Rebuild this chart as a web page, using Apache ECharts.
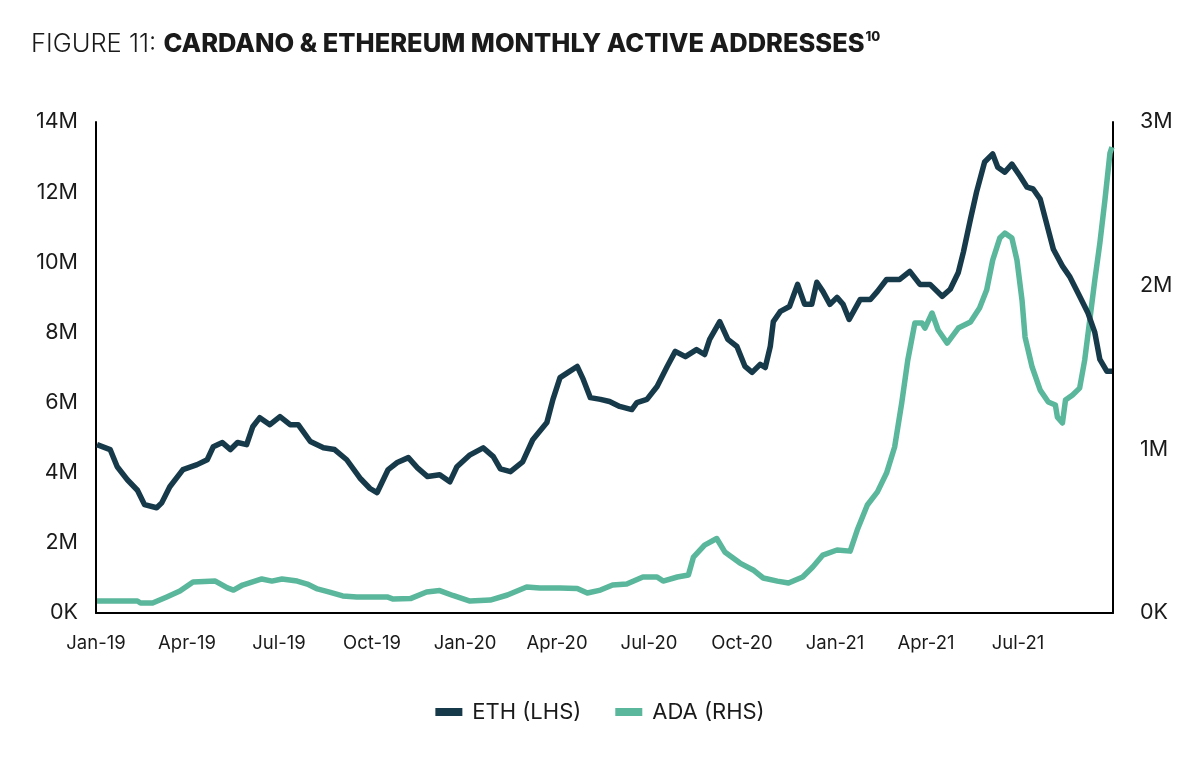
<!DOCTYPE html>
<html>
<head>
<meta charset="utf-8">
<script src="https://cdn.jsdelivr.net/npm/echarts@6/dist/echarts.min.js"></script>
<style>
  html, body { margin: 0; padding: 0; background: #fff; }
  #chart { width: 1200px; height: 761px; }
</style>
</head>
<body>
<div id="chart"></div>
<script>
// ETH monthly active addresses, millions (left axis)
const ethDates = [
  '2019-01-02','2019-01-15','2019-01-22','2019-02-01','2019-02-11','2019-02-18','2019-03-02','2019-03-07',
  '2019-03-15','2019-03-28','2019-04-11','2019-04-21','2019-04-27','2019-05-06','2019-05-14','2019-05-21',
  '2019-05-30','2019-06-05','2019-06-12','2019-06-22','2019-07-02','2019-07-12','2019-07-20','2019-08-01',
  '2019-08-14','2019-08-25','2019-09-06','2019-09-19','2019-09-29','2019-10-06','2019-10-17','2019-10-26',
  '2019-11-06','2019-11-15','2019-11-25','2019-12-07','2019-12-17','2019-12-24','2020-01-06','2020-01-19',
  '2020-01-29','2020-02-05','2020-02-15','2020-02-27','2020-03-08','2020-03-22','2020-03-28','2020-04-04',
  '2020-04-12','2020-04-21','2020-04-27','2020-05-04','2020-05-14','2020-05-23','2020-06-02','2020-06-14',
  '2020-06-19','2020-06-29','2020-07-09','2020-07-19','2020-07-27','2020-08-06','2020-08-17','2020-08-25',
  '2020-08-30','2020-09-09','2020-09-17','2020-09-26','2020-10-04','2020-10-11','2020-10-19','2020-10-24',
  '2020-10-29','2020-11-01','2020-11-08','2020-11-17','2020-11-25','2020-12-02','2020-12-09','2020-12-14',
  '2020-12-20','2020-12-27','2021-01-03','2021-01-09','2021-01-15','2021-01-26','2021-02-05','2021-02-12',
  '2021-02-21','2021-03-06','2021-03-16','2021-03-26','2021-04-05','2021-04-17','2021-04-25','2021-05-03',
  '2021-05-08','2021-05-15','2021-05-21','2021-05-29','2021-06-06','2021-06-11','2021-06-18','2021-06-25',
  '2021-07-03','2021-07-10','2021-07-16','2021-07-23','2021-07-30','2021-08-05','2021-08-14','2021-08-21',
  '2021-08-31','2021-09-08','2021-09-15','2021-09-20','2021-09-27','2021-10-02'
];
const ethValues = [
  4.80, 4.66, 4.17, 3.80, 3.50, 3.09, 3.00, 3.14,
  3.60, 4.09, 4.23, 4.37, 4.74, 4.86, 4.66, 4.86,
  4.80, 5.31, 5.57, 5.37, 5.60, 5.37, 5.37, 4.89,
  4.71, 4.66, 4.37, 3.85, 3.55, 3.43, 4.09, 4.29,
  4.43, 4.14, 3.89, 3.94, 3.74, 4.17, 4.51, 4.71,
  4.46, 4.11, 4.03, 4.31, 4.94, 5.43, 6.09, 6.71,
  6.86, 7.03, 6.66, 6.14, 6.09, 6.03, 5.89, 5.80,
  6.00, 6.09, 6.46, 7.03, 7.46, 7.31, 7.51, 7.37,
  7.80, 8.31, 7.80, 7.60, 7.03, 6.86, 7.09, 7.00,
  7.60, 8.31, 8.60, 8.74, 9.37, 8.80, 8.80, 9.43,
  9.17, 8.80, 9.00, 8.80, 8.37, 8.94, 8.94, 9.17,
  9.51, 9.51, 9.74, 9.37, 9.37, 9.03, 9.23, 9.71,
  10.29, 11.23, 12.00, 12.86, 13.09, 12.71, 12.57, 12.80,
  12.46, 12.14, 12.09, 11.80, 11.03, 10.37, 9.89, 9.60,
  9.03, 8.57, 8.00, 7.23, 6.89, 6.89
];

// ADA monthly active addresses, millions (right axis)
const adaDates = [
  '2019-01-02','2019-02-11','2019-02-14','2019-02-26','2019-03-12','2019-03-25','2019-04-07','2019-04-29',
  '2019-05-11','2019-05-17','2019-05-26','2019-06-14','2019-06-24','2019-07-04','2019-07-19','2019-07-29',
  '2019-08-08','2019-08-20','2019-09-02','2019-09-16','2019-09-29','2019-10-16','2019-10-22','2019-11-08',
  '2019-11-24','2019-12-07','2019-12-20','2020-01-06','2020-01-26','2020-02-12','2020-03-02','2020-03-15',
  '2020-04-04','2020-04-21','2020-05-01','2020-05-14','2020-05-26','2020-06-09','2020-06-25','2020-07-09',
  '2020-07-15','2020-07-29','2020-08-09','2020-08-14','2020-08-25','2020-09-06','2020-09-14','2020-09-29',
  '2020-10-12','2020-10-22','2020-11-05','2020-11-16','2020-11-30','2020-12-10','2020-12-20','2021-01-03',
  '2021-01-16','2021-01-23','2021-02-02','2021-02-12','2021-02-21','2021-03-01','2021-03-08','2021-03-14',
  '2021-03-21','2021-03-28','2021-03-31','2021-04-07','2021-04-13','2021-04-22','2021-05-03','2021-05-15',
  '2021-05-24','2021-05-31','2021-06-06','2021-06-13','2021-06-18','2021-06-25','2021-06-30','2021-07-05',
  '2021-07-08','2021-07-15','2021-07-23','2021-07-31','2021-08-07','2021-08-09','2021-08-14','2021-08-17',
  '2021-08-24','2021-08-31','2021-09-05','2021-09-10','2021-09-15','2021-09-20','2021-09-25','2021-09-30',
  '2021-10-02'
];
const adaValues = [
  0.073, 0.073, 0.061, 0.061, 0.098, 0.134, 0.190, 0.195,
  0.153, 0.140, 0.171, 0.208, 0.195, 0.208, 0.195, 0.177,
  0.147, 0.128, 0.104, 0.098, 0.098, 0.098, 0.085, 0.088,
  0.128, 0.137, 0.107, 0.073, 0.079, 0.110, 0.159, 0.153,
  0.153, 0.150, 0.122, 0.140, 0.171, 0.177, 0.220, 0.220,
  0.195, 0.220, 0.232, 0.342, 0.415, 0.455, 0.373, 0.305,
  0.263, 0.214, 0.195, 0.183, 0.220, 0.281, 0.354, 0.385,
  0.378, 0.507, 0.660, 0.740, 0.855, 1.014, 1.283, 1.545,
  1.772, 1.772, 1.741, 1.833, 1.729, 1.649, 1.741, 1.778,
  1.863, 1.973, 2.156, 2.291, 2.321, 2.291, 2.156, 1.912,
  1.686, 1.503, 1.362, 1.289, 1.271, 1.197, 1.161, 1.301,
  1.332, 1.374, 1.545, 1.790, 2.034, 2.260, 2.523, 2.810,
  2.847
];

const leftTicks = { min: 0, max: 14, interval: 2 };
const rightTicks = { min: 0, max: 3, interval: 1 };
const monthNames = ['Jan','Feb','Mar','Apr','May','Jun','Jul','Aug','Sep','Oct','Nov','Dec'];

// daily category axis, 1 Jan 2019 to 3 Oct 2021
const days = [];
for (let t = Date.UTC(2019, 0, 1); t <= Date.UTC(2021, 9, 3); t += 86400000) {
  days.push(new Date(t).toISOString().slice(0, 10));
}

const fmtMillions = (v) => (v === 0 ? '0K' : v + 'M');
const font = 'Inter, "Open Sans", sans-serif';
const ink = '#1a1a1a';

const chart = echarts.init(document.getElementById('chart'));
chart.setOption({
  backgroundColor: '#fff',
  animation: false,
  title: {
    left: 26,
    top: 26,
    text: '{a|FIGURE 11: }{b|CARDANO & ETHEREUM MONTHLY ACTIVE ADDRESSES}{c|10}',
    textStyle: {
      rich: {
        a: { fontFamily: font, fontSize: 25.5, fontWeight: 300, color: ink },
        b: { fontFamily: font, fontSize: 25.5, fontWeight: 800, color: ink },
        c: { fontFamily: font, fontSize: 13, fontWeight: 800, color: ink, padding: [0, 0, 13, 1] }
      }
    }
  },
  legend: {
    bottom: 33,
    left: 'center',
    icon: 'rect',
    itemWidth: 27,
    itemHeight: 8,
    itemGap: 34,
    textStyle: { fontFamily: font, fontSize: 22, color: ink, padding: [0, 0, 0, 5] },
    data: ['ETH (LHS)', 'ADA (RHS)']
  },
  grid: { left: 96, right: 87, top: 122, bottom: 148, containLabel: false },
  xAxis: {
    type: 'category',
    data: days,
    boundaryGap: false,
    axisLine: { lineStyle: { color: '#000', width: 2 } },
    axisTick: { show: false },
    axisLabel: {
      fontFamily: font,
      fontSize: 18.5,
      color: ink,
      margin: 21,
      hideOverlap: false,
      interval: (idx, val) => idx < days.length - 20 && /-(01|04|07|10)-01$/.test(val),
      formatter: (val) => monthNames[+val.slice(5, 7) - 1] + '-' + val.slice(2, 4)
    },
    splitLine: { show: false }
  },
  yAxis: [
    {
      type: 'value',
      ...leftTicks,
      axisLine: { show: true, lineStyle: { color: '#000', width: 2 } },
      axisTick: { show: false },
      splitLine: { show: false },
      axisLabel: { fontFamily: font, fontSize: 21.5, color: ink, margin: 18, formatter: fmtMillions }
    },
    {
      type: 'value',
      ...rightTicks,
      position: 'right',
      axisLine: { show: true, lineStyle: { color: '#000', width: 2 } },
      axisTick: { show: false },
      splitLine: { show: false },
      axisLabel: { fontFamily: font, fontSize: 21.5, color: ink, margin: 27, formatter: fmtMillions }
    }
  ],
  series: [
    {
      name: 'ETH (LHS)',
      type: 'line',
      yAxisIndex: 0,
      showSymbol: false,
      itemStyle: { color: '#173a4b' },
      lineStyle: { color: '#173a4b', width: 5.5, join: 'round' },
      data: ethDates.map((d, i) => [d, ethValues[i]]),
      z: 3
    },
    {
      name: 'ADA (RHS)',
      type: 'line',
      yAxisIndex: 1,
      showSymbol: false,
      itemStyle: { color: '#5bb79b' },
      lineStyle: { color: '#5bb79b', width: 5.5, join: 'round' },
      data: adaDates.map((d, i) => [d, adaValues[i]]),
      z: 2
    }
  ]
});
</script>
</body>
</html>
